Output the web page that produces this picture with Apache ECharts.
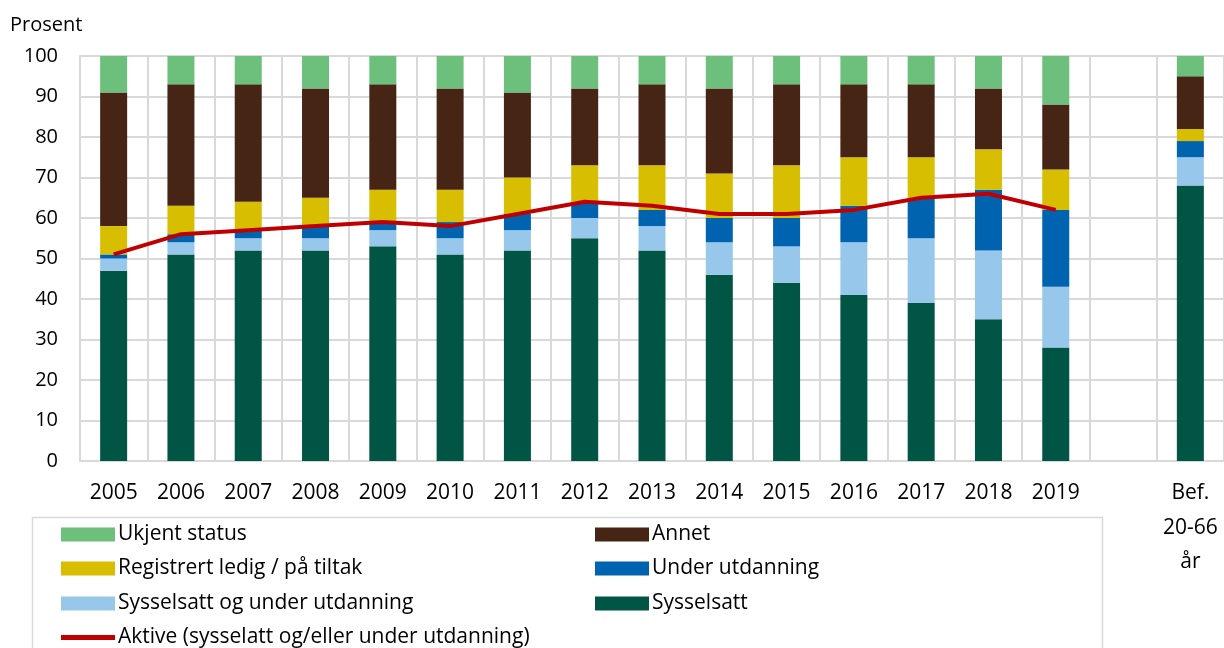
<!DOCTYPE html>
<html>
<head>
<meta charset="utf-8">
<script src="https://cdn.jsdelivr.net/npm/echarts@6/dist/echarts.min.js"></script>
<style>
	html, body { margin: 0; padding: 0; background: #fff; }
	#chart { width: 1224px; height: 648px; }
</style>
</head>
<body>
<div id="chart"></div>
<script>
var categories = ['2005', '2006', '2007', '2008', '2009', '2010', '2011', '2012', '2013', '2014', '2015', '2016', '2017', '2018', '2019', '', 'Bef.\n20-66\når'];
var sysselsatt = [47, 51, 52, 52, 53, 51, 52, 55, 52, 46, 44, 41, 39, 35, 28, null, 68];
var sysselsattUtd = [3, 3, 3, 3, 4, 4, 5, 5, 6, 8, 9, 13, 16, 17, 15, null, 7];
var underUtd = [1, 2, 2, 3, 2, 4, 4, 4, 4, 6, 7, 9, 10, 15, 19, null, 4];
var registrert = [7, 7, 7, 7, 8, 8, 9, 9, 11, 11, 13, 12, 10, 10, 10, null, 3];
var annet = [33, 30, 29, 27, 26, 25, 21, 19, 20, 21, 20, 18, 18, 15, 16, null, 13];
var ukjent = [9, 7, 7, 8, 7, 8, 9, 8, 7, 8, 7, 7, 7, 8, 12, null, 5];
var aktive = [51, 56, 57, 58, 59, 58, 61, 64, 63, 61, 61, 62, 65, 66, 62, null, null];
var yTicks = [0, 100, 10];

var font = '"Open Sans", "Noto Sans", sans-serif';
var chart = echarts.init(document.getElementById('chart'));

function bar(name, data, color) {
	return {
		name: name,
		type: 'bar',
		stack: 'total',
		barWidth: 27,
		itemStyle: { color: color },
		data: data
	};
}

// one legend per entry so the two columns line up like the original
function legendItem(name, left, top, iconH) {
	return {
		left: left, top: top,
		padding: 0,
		itemWidth: 54, itemHeight: iconH || 14,
		icon: 'rect',
		textStyle: { fontSize: 21, color: '#000', fontFamily: font, padding: [0, 0, 0, -2] },
		data: [name]
	};
}

var option = {
	animation: false,
	textStyle: { fontFamily: font },
	grid: { left: 80, right: 0, top: 56, bottom: 187 },
	graphic: [{
		type: 'rect',
		left: 30, top: 515,
		shape: { width: 1070, height: 160 },
		style: { fill: 'none', stroke: '#d9d9d9', lineWidth: 1.5 }
	}, {
		type: 'text',
		left: 10, top: 15,
		style: { text: 'Prosent', font: '20px ' + font, fill: '#000' }
	}],
	legend: [
		legendItem('Ukjent status', 61, 524),
		legendItem('Annet', 595, 524),
		legendItem('Registrert ledig / på tiltak', 61, 558),
		legendItem('Under utdanning', 595, 558),
		legendItem('Sysselsatt og under utdanning', 61, 593),
		legendItem('Sysselsatt', 595, 593),
		legendItem('Aktive (sysselatt og/eller under utdanning)', 61, 627, 5)
	],
	xAxis: {
		type: 'category',
		data: categories,
		axisLine: { lineStyle: { color: '#d9d9d9', width: 2 } },
		axisTick: { show: false },
		splitLine: { show: true, interval: 0, lineStyle: { color: '#d9d9d9', width: 2 } },
		axisLabel: { interval: 0, fontSize: 21, color: '#000', margin: 15, lineHeight: 34.5, fontFamily: font }
	},
	yAxis: {
		type: 'value',
		min: yTicks[0], max: yTicks[1], interval: yTicks[2],
		axisLine: { show: true, lineStyle: { color: '#d9d9d9', width: 2 } },
		axisTick: { show: false },
		splitLine: { lineStyle: { color: '#d9d9d9', width: 2 } },
		axisLabel: { fontSize: 20, color: '#000', margin: 22, fontFamily: font }
	},
	series: [
		bar('Sysselsatt', sysselsatt, '#005545'),
		bar('Sysselsatt og under utdanning', sysselsattUtd, '#97c7eb'),
		bar('Under utdanning', underUtd, '#0063af'),
		bar('Registrert ledig / på tiltak', registrert, '#d7be00'),
		bar('Annet', annet, '#472515'),
		bar('Ukjent status', ukjent, '#6cc07c'),
		{
			name: 'Aktive (sysselatt og/eller under utdanning)',
			type: 'line',
			symbol: 'none',
			itemStyle: { color: '#c00000' },
			lineStyle: { color: '#c00000', width: 4 },
			data: aktive
		}
	]
};
chart.setOption(option);
</script>
</body>
</html>
